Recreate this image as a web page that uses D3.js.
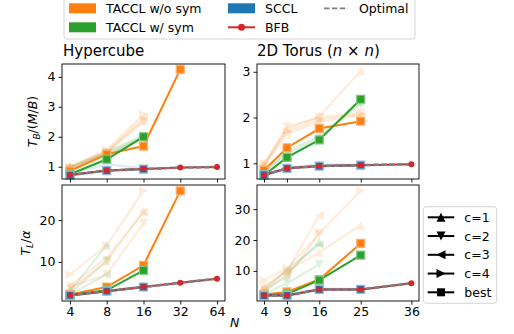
<!DOCTYPE html>
<html>
<head>
<meta charset="utf-8">
<script src="https://cdn.jsdelivr.net/npm/d3@7"></script>
<style>
  body { margin: 0; background: #fff; }
  svg { display: block; font-family: "DejaVu Sans", sans-serif; }
</style>
</head>
<body>
<div id="chart"></div>
<script>
// x values
var hcN = [4, 8, 16, 32, 64];
var torusN = [4, 9, 16, 25, 36];

// Hypercube, T_B/(M/B)
var hcBwNoSym = [0.86, 1.42, 1.69, 4.25, null];
var hcBwSym = [0.75, 1.25, 2.0, null, null];
var hcBwSccl = [0.72, 0.87, 0.92, null, null];
var hcBwBfb = [0.72, 0.87, 0.92, 0.97, 0.99];
var hcBwNoSymC = [[1.02, 1.52, 2.55], [0.95, 1.45, 2.5], [0.93, 1.48, 2.65], [1.0, 1.56, 2.75]];
var hcBwSymC = [[1.0, 1.45, 2.0], [0.9, 1.4, 1.95], [0.85, 1.35, 2.0], [0.95, 1.5, 2.05]];
var hcBwScclC = [[0.75, 1.08, 0.95]];

// 2D Torus, T_B/(M/B)
var toBwNoSym = [0.85, 1.34, 1.76, 1.92, null];
var toBwSym = [0.74, 1.13, 1.51, 2.40, null];
var toBwSccl = [0.75, 0.89, 0.94, 0.96, null];
var toBwBfb = [0.74, 0.89, 0.94, 0.96, 0.98];
var toBwNoSymC = [[1.0, 1.75, 2.02, 3.02], [0.98, 1.80, 2.0, 2.10], [0.95, 1.65, 1.9, 2.05], [0.95, 1.70, 1.95, 2.08]];
var toBwSymC = [[0.8, 1.2, 1.55, 2.35], [0.8, 1.25, 1.6, 2.3]];
var toBwScclC = [[0.76, 0.9, 0.98, 0.97]];

// Hypercube, T_L/alpha
var hcLatNoSym = [2.2, 4.0, 9.2, 27.0, null];
var hcLatSym = [2.0, 3.2, 8.0, null, null];
var hcLatSccl = [2.0, 3.0, 4.0, null, null];
var hcLatBfb = [2.0, 3.0, 4.0, 5.0, 6.0];
var hcLatNoSymC = [[3.5, 10.2, 22.0], [4.0, 7.0, 19.2], [4.3, 11.0, 22.0], [7.0, 14.0, 27.0]];
var hcLatSymC = [[3.0, 14.0], [2.5, 10.2], [2.2, 7.0]];
var hcLatScclC = [[2.1, 3.2, 4.2]];

// 2D Torus, T_L/alpha
var toLatNoSym = [2.4, 3.2, 7.2, 18.9, null];
var toLatSym = [2.1, 2.5, 7.0, 15.1, null];
var toLatSccl = [2.0, 2.1, 4.0, 4.0, null];
var toLatBfb = [2.0, 2.0, 4.0, 4.0, 6.0];
var toLatNoSymC = [[5.0, 10.0, 16.0, 24.8], [4.0, 8.0, 22.1, null], [4.5, 10.0, 27.9, null], [7.0, 10.8, 22.1, 36.0]];
var toLatSymC = [[3.0, 9.0, 19.4], [2.5, 6.0, 12.1], [3.5, 10.5, 18.5]];
var toLatScclC = [[2.2, 2.4, 4.3, 4.2]];

var cMarkers = ["up", "down", "left", "right"];
var cLabels = ["c=1", "c=2", "c=3", "c=4", "best"];
var seriesNames = ["TACCL w/o sym", "TACCL w/ sym", "SCCL", "BFB", "Optimal"];

var orange = "#ff7f0e", green = "#2ca02c", blue = "#1f77b4", red = "#d62728", gray = "#7f7f7f";

var svg = d3.select("#chart").append("svg")
  .attr("width", 514)
  .attr("height", 334);

function markerPath(shape, s) {
  var r = s / 2;
  if (shape == "up") return "M0," + (-r) + "L" + r + "," + r + "L" + (-r) + "," + r + "Z";
  if (shape == "down") return "M0," + r + "L" + r + "," + (-r) + "L" + (-r) + "," + (-r) + "Z";
  if (shape == "left") return "M" + (-r) + ",0L" + r + "," + (-r) + "L" + r + "," + r + "Z";
  if (shape == "right") return "M" + r + ",0L" + (-r) + "," + (-r) + "L" + (-r) + "," + r + "Z";
  return "M" + (-r) + "," + (-r) + "H" + r + "V" + r + "H" + (-r) + "Z";
}

function pairs(xs, ys) {
  return ys.map(function(v, i) { return [xs[i], v]; })
    .filter(function(d) { return d[1] != null; });
}

var panels = [
  { xs: hcN, log: true, left: 62, right: 225, top: 64, bottom: 179, xDom: [3.44, 74.4], yDom: [0.59, 4.43],
    yTicks: [1, 2, 3, 4], showX: false, noSym: hcBwNoSym, sym: hcBwSym, sccl: hcBwSccl, bfb: hcBwBfb,
    noSymC: hcBwNoSymC, symC: hcBwSymC, scclC: hcBwScclC },
  { xs: torusN, log: false, left: 257, right: 419, top: 64, bottom: 179, xDom: [2.48, 37.65], yDom: [0.657, 3.17],
    yTicks: [1, 2, 3], showX: false, noSym: toBwNoSym, sym: toBwSym, sccl: toBwSccl, bfb: toBwBfb,
    noSymC: toBwNoSymC, symC: toBwSymC, scclC: toBwScclC },
  { xs: hcN, log: true, left: 62, right: 225, top: 185, bottom: 301, xDom: [3.44, 74.4], yDom: [0.65, 28.4],
    yTicks: [10, 20], showX: true, noSym: hcLatNoSym, sym: hcLatSym, sccl: hcLatSccl, bfb: hcLatBfb,
    noSymC: hcLatNoSymC, symC: hcLatSymC, scclC: hcLatScclC },
  { xs: torusN, log: false, left: 257, right: 419, top: 185, bottom: 301, xDom: [2.48, 37.65], yDom: [0.26, 37.8],
    yTicks: [10, 20, 30], showX: true, noSym: toLatNoSym, sym: toLatSym, sccl: toLatSccl, bfb: toLatBfb,
    noSymC: toLatNoSymC, symC: toLatSymC, scclC: toLatScclC }
];

panels.forEach(function(p) {
  var x = (p.log ? d3.scaleLog().base(2) : d3.scaleLinear()).domain(p.xDom).range([p.left, p.right]);
  var y = d3.scaleLinear().domain(p.yDom).range([p.bottom, p.top]);
  var line = d3.line().x(function(d) { return x(d[0]); }).y(function(d) { return y(d[1]); });
  var g = svg.append("g");

  // faint per-c runs
  function faint(runs, color) {
    runs.forEach(function(run, k) {
      var pts = pairs(p.xs, run);
      var fg = g.append("g").attr("opacity", 0.15);
      fg.append("path").attr("d", line(pts)).attr("fill", "none").attr("stroke", color).attr("stroke-width", 2);
      fg.selectAll("path.m").data(pts).enter().append("path")
        .attr("class", "m")
        .attr("transform", function(d) { return "translate(" + x(d[0]) + "," + y(d[1]) + ")"; })
        .attr("d", markerPath(cMarkers[k], 9))
        .attr("fill", color);
    });
  }
  faint(p.scclC, blue);
  faint(p.symC, green);
  faint(p.noSymC, orange);

  function best(vals, color, edge) {
    var pts = pairs(p.xs, vals);
    g.append("path").attr("d", line(pts)).attr("fill", "none").attr("stroke", color).attr("stroke-width", 2);
    g.selectAll(null).data(pts).enter().append("path")
      .attr("transform", function(d) { return "translate(" + x(d[0]) + "," + y(d[1]) + ")"; })
      .attr("d", markerPath("square", 8))
      .attr("fill", color)
      .attr("stroke", edge).attr("stroke-width", 1.2);
  }
  best(p.noSym, orange, "#ffb070");
  best(p.sym, green, "#7fc97f");
  best(p.sccl, blue, "#8fbbd9");

  // BFB and optimal
  var bfb = pairs(p.xs, p.bfb);
  g.append("path").attr("d", line(bfb)).attr("fill", "none").attr("stroke", red).attr("stroke-width", 2);
  g.append("path").attr("d", line(bfb)).attr("fill", "none").attr("stroke", gray)
    .attr("stroke-width", 2.6).attr("stroke-dasharray", "5.5,2.4");
  g.selectAll(null).data(bfb).enter().append("circle")
    .attr("cx", function(d) { return x(d[0]); })
    .attr("cy", function(d) { return y(d[1]); })
    .attr("r", 3).attr("fill", red);

  // frame
  g.append("rect").attr("x", p.left).attr("y", p.top)
    .attr("width", p.right - p.left).attr("height", p.bottom - p.top)
    .attr("fill", "none").attr("stroke", "#000").attr("stroke-width", 0.9);

  var ya = g.append("g").attr("transform", "translate(" + p.left + ",0)")
    .call(d3.axisLeft(y).tickValues(p.yTicks).tickSize(3.5).tickPadding(3).tickFormat(d3.format("d")));
  var xa = g.append("g").attr("transform", "translate(0," + p.bottom + ")")
    .call(d3.axisBottom(x).tickValues(p.xs).tickSize(3.5).tickPadding(3)
      .tickFormat(p.showX ? d3.format("d") : function() { return ""; }));
  [ya, xa].forEach(function(a) {
    a.select(".domain").remove();
    a.attr("font-family", null).attr("font-size", 12.5);
    a.selectAll("line").attr("stroke-width", 0.9);
    a.selectAll("text").attr("fill", "#000");
  });
  if (p.left > 100) ya.selectAll("text").text(function(d) { return d; });
});

// titles
svg.append("text").attr("x", 63).attr("y", 56).attr("font-size", 15).text("Hypercube");
var tt = svg.append("text").attr("x", 257).attr("y", 56).attr("font-size", 15);
tt.append("tspan").text("2D Torus (");
tt.append("tspan").attr("font-style", "italic").text("n");
tt.append("tspan").text(" × ");
tt.append("tspan").attr("font-style", "italic").text("n");
tt.append("tspan").text(")");

// y labels
var yl1 = svg.append("text").attr("transform", "translate(37,121.5) rotate(-90)")
  .attr("text-anchor", "middle").attr("font-size", 12.5);
yl1.append("tspan").attr("font-style", "italic").text("T");
yl1.append("tspan").attr("font-style", "italic").attr("font-size", 9).attr("dy", 3).text("B");
yl1.append("tspan").attr("dy", -3).text("/(");
yl1.append("tspan").attr("font-style", "italic").text("M");
yl1.append("tspan").text("/");
yl1.append("tspan").attr("font-style", "italic").text("B");
yl1.append("tspan").text(")");

var yl2 = svg.append("text").attr("transform", "translate(30,243) rotate(-90)")
  .attr("text-anchor", "middle").attr("font-size", 12.5);
yl2.append("tspan").attr("font-style", "italic").text("T");
yl2.append("tspan").attr("font-style", "italic").attr("font-size", 9).attr("dy", 3).text("L");
yl2.append("tspan").attr("dy", -3).text("/");
yl2.append("tspan").attr("font-style", "italic").text("α");

svg.append("text").attr("x", 230).attr("y", 326.5).attr("font-size", 12.5)
  .attr("font-style", "italic").text("N");

// top legend
var lg = svg.append("g");
lg.append("rect").attr("x", 64).attr("y", -5).attr("width", 351).attr("height", 44).attr("rx", 3)
  .attr("fill", "#fff").attr("stroke", "#d0d0d0").attr("stroke-width", 0.9);
var legItems = [
  { kind: "patch", color: orange, x: 69, row: 0 },
  { kind: "patch", color: green, x: 69, row: 1 },
  { kind: "patch", color: blue, x: 228, row: 0 },
  { kind: "bfb", color: red, x: 228, row: 1 },
  { kind: "dash", color: gray, x: 324, row: 0 }
];
legItems.forEach(function(it, i) {
  var cy = it.row == 0 ? 8.3 : 27.3;
  if (it.kind == "patch") {
    lg.append("rect").attr("x", it.x).attr("y", cy - 5).attr("width", 27).attr("height", 10).attr("fill", it.color);
  } else if (it.kind == "bfb") {
    lg.append("line").attr("x1", it.x).attr("x2", it.x + 27).attr("y1", cy).attr("y2", cy)
      .attr("stroke", it.color).attr("stroke-width", 2);
    lg.append("circle").attr("cx", it.x + 13.5).attr("cy", cy).attr("r", 3.5).attr("fill", it.color);
  } else {
    lg.append("line").attr("x1", it.x).attr("x2", it.x + 24).attr("y1", cy).attr("y2", cy)
      .attr("stroke", it.color).attr("stroke-width", 1.8).attr("stroke-dasharray", "5.5,2.4");
  }
  lg.append("text").attr("x", it.x + (it.kind == "dash" ? 35 : 37)).attr("y", cy + 4.5)
    .attr("font-size", 12.5).text(seriesNames[i]);
});

// right legend
var rg = svg.append("g");
rg.append("rect").attr("x", 423.3).attr("y", 206.7).attr("width", 73.4).attr("height", 96.6).attr("rx", 3)
  .attr("fill", "#fff").attr("stroke", "#d0d0d0").attr("stroke-width", 0.9);
cLabels.forEach(function(lab, i) {
  var cy = 217.3 + i * 18.75;
  rg.append("line").attr("x1", 427.7).attr("x2", 454.3).attr("y1", cy).attr("y2", cy)
    .attr("stroke", "#000").attr("stroke-width", 2);
  rg.append("path").attr("transform", "translate(441," + cy + ")")
    .attr("d", markerPath(i < 4 ? cMarkers[i] : "square", i < 4 ? 9 : 8)).attr("fill", "#000");
  rg.append("text").attr("x", 464.3).attr("y", cy + 4.5).attr("font-size", 12.5).text(lab);
});
</script>
</body>
</html>
